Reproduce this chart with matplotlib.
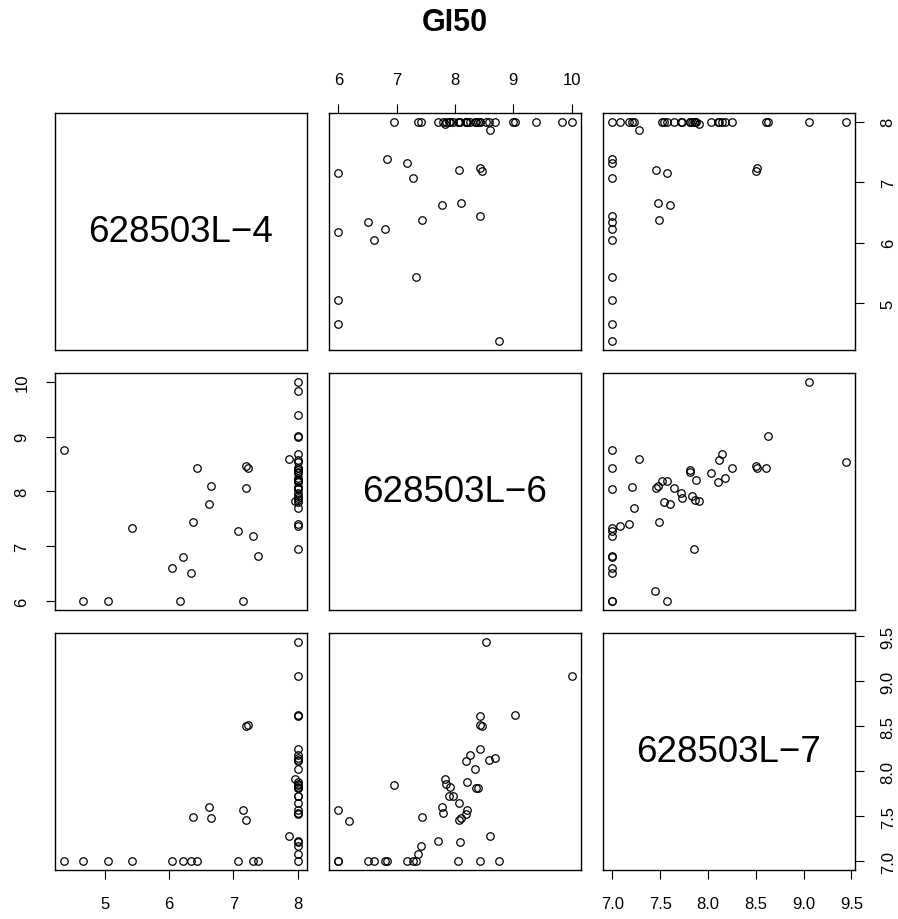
import numpy as np
import matplotlib
matplotlib.use("Agg")
import matplotlib.pyplot as plt

plt.rcParams['font.family'] = ['Liberation Sans', 'DejaVu Sans']

nan = np.nan
title = "GI50"
var_names = ["628503L\u22124", "628503L\u22126", "628503L\u22127"]

# observations (628503L-4, 628503L-6, 628503L-7); nan = missing value
v4 = [4.37, 4.66, 5.05, 5.43, 6.05, 6.22, 6.34, 6.44, 7.07, 7.31, 7.38, 8.00,
      6.17, 6.37, 6.62, 6.65, 7.15, 7.19, 7.23, 7.20, 7.87, 7.96,
      nan,
      8.00, 8.00, 8.00, 8.00, 8.00, 8.00, 8.00, 8.00, 8.00, 8.00, 8.00, 8.00, 8.00,
      8.00, 8.00, 8.00, 8.00, 8.00, 8.00, 8.00, 8.00, 8.00, 8.00, 8.00, 8.00, 8.00,
      8.00, 8.00, 8.00]
v6 = [8.76, 6.00, 6.00, 7.33, 6.61, 6.80, 6.51, 8.43, 7.28, 7.18, 6.83, 8.05,
      6.00, 7.44, 7.78, 8.10, 6.00, 8.46, 8.43, 8.06, 8.60, 7.83,
      6.18,
      7.37, 7.41, 8.09, 7.70, 8.19, 8.20, 7.80, 8.06, 7.97, 7.89, 8.39, 8.36, 7.92,
      7.85, 6.95, 8.21, 8.34, 8.18, 8.25, 8.58, 8.68, 8.43, 8.43, 9.02, 10.00, 8.53,
      9.83, 9.39, 8.99]
v7 = [7.00, 7.00, 7.00, 7.00, 7.00, 7.00, 7.00, 7.00, 7.00, 7.00, 7.00, 7.00,
      nan, 7.49, 7.60, 7.48, 7.57, 8.50, 8.51, 7.46, 7.28, 7.91,
      7.45,
      7.08, 7.17, 7.21, 7.23, 7.52, 7.57, 7.54, 7.65, 7.72, 7.73, 7.81, 7.81, 7.83,
      7.86, 7.85, 7.88, 8.03, 8.11, 8.18, 8.12, 8.15, 8.25, 8.61, 8.63, 9.06, 9.44,
      nan, nan, nan]

ticks4 = [5, 6, 7, 8]
ticks6 = [6, 7, 8, 9, 10]
ticks7 = [7.0, 7.5, 8.0, 8.5, 9.0, 9.5]
ticklabels4 = ["5", "6", "7", "8"]
ticklabels6 = ["6", "7", "8", "9", "10"]
ticklabels7 = ["7.0", "7.5", "8.0", "8.5", "9.0", "9.5"]

data = [np.array(v4, float), np.array(v6, float), np.array(v7, float)]
ticks = [ticks4, ticks6, ticks7]
tlabels = [ticklabels4, ticklabels6, ticklabels7]

def lims(a):
    lo, hi = np.nanmin(a), np.nanmax(a)
    e = 0.04 * (hi - lo)
    return lo - e, hi + e

W, H = 898, 920
fig = plt.figure(figsize=(W / 100, H / 100), dpi=100)

col_left = [55, 329, 603]
row_top = [114, 374, 634]
pw, ph = 252, 237

tick_kw = dict(length=6.5, width=0.8, labelsize=12, pad=12, direction='out')

for i in range(3):
    for j in range(3):
        ax = fig.add_axes([col_left[j] / W, 1 - (row_top[i] + ph) / H, pw / W, ph / H])
        for s in ax.spines.values():
            s.set_linewidth(1.0)
        ax.set_xlim(*lims(data[j]))
        ax.set_ylim(*lims(data[i]))
        ax.tick_params(bottom=False, top=False, left=False, right=False,
                       labelbottom=False, labeltop=False, labelleft=False, labelright=False)
        if i == j:
            ax.text(0.5, 0.5, var_names[i], transform=ax.transAxes, ha='center',
                    va='center', fontsize=26.5)
        else:
            x = data[j]
            y = data[i]
            ax.plot(x, y, 'o', ms=5.4, mfc='none', mec='black', mew=0.9, ls='none')
        # axes like R pairs
        if i == 0 and j % 2 == 1:
            ax.set_xticks(ticks[j])
            ax.set_xticklabels(tlabels[j])
            ax.tick_params(axis='x', top=True, labeltop=True, **tick_kw)
        if i == 2 and j % 2 == 0:
            ax.set_xticks(ticks[j])
            ax.set_xticklabels(tlabels[j])
            ax.tick_params(axis='x', bottom=True, labelbottom=True, **tick_kw)
        if j == 0 and i % 2 == 1:
            ax.set_yticks(ticks[i])
            ax.set_yticklabels(tlabels[i], rotation=90, va='center')
            ax.tick_params(axis='y', left=True, labelleft=True, **tick_kw)
        if j == 2 and i % 2 == 0:
            ax.set_yticks(ticks[i])
            ax.set_yticklabels(tlabels[i], rotation=90, va='center')
            ax.tick_params(axis='y', right=True, labelright=True, **tick_kw)

fig.text(455 / W, 1 - 23 / H, title, ha='center', va='center', fontsize=22,
         fontweight='bold')

fig.savefig("out.png", dpi=100, facecolor='white')
